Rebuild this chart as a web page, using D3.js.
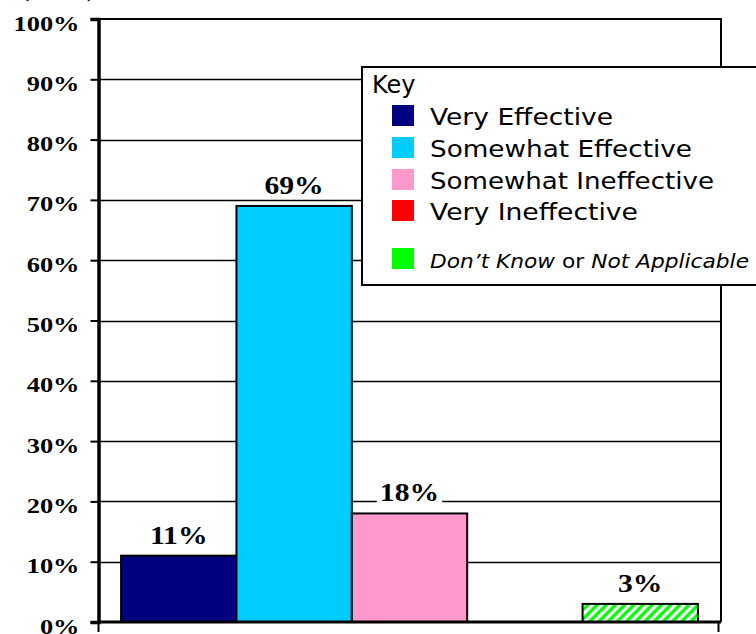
<!DOCTYPE html>
<html>
<head>
<meta charset="utf-8">
<script src="https://cdn.jsdelivr.net/npm/d3@7"></script>
<style>
  body { margin: 0; background: #fff; }
  svg { display: block; }
</style>
</head>
<body>
<svg width="756" height="634"></svg>
<script>
// data
var categories = ["Very Effective", "Somewhat Effective", "Somewhat Ineffective", "Very Ineffective", "Don\u2019t Know or Not Applicable"];
var values = [0.11, 0.69, 0.18, 0.00, 0.03];
var colors = ["#000080", "#00ccff", "#ff99cc", "#ff0000", "#00ff00"];
var yTicks = [0, 0.1, 0.2, 0.3, 0.4, 0.5, 0.6, 0.7, 0.8, 0.9, 1.0];

var svg = d3.select("svg"),
    width = +svg.attr("width"),
    height = +svg.attr("height");

var plotL = 98, plotR = 721, plotT = 19, plotB = 622;

var y = d3.scaleLinear().domain([0, 1]).range([plotB, plotT]);
var x = d3.scaleBand()
    .domain(categories)
    .range([plotL, plotR])
    .paddingInner(0)
    .paddingOuter(0.2);

// hatch for the last bar
var defs = svg.append("defs");
var pat = defs.append("pattern")
    .attr("id", "hatch")
    .attr("patternUnits", "userSpaceOnUse")
    .attr("width", 6.5).attr("height", 6.5)
    .attr("patternTransform", "rotate(45)");
pat.append("rect").attr("width", 6.5).attr("height", 6.5).attr("fill", "#00ff00");
pat.append("rect").attr("width", 3.2).attr("height", 6.5).attr("fill", "#fff");

// little title, mostly cut by the top edge
svg.append("text")
    .attr("x", 58).attr("y", -3)
    .attr("text-anchor", "middle")
    .style("font-family", "'Liberation Serif', serif")
    .style("font-weight", "bold")
    .style("font-size", "22px")
    .text("(n = 36)");

// frame top / right
svg.append("path")
    .attr("d", "M" + plotL + "," + plotT + "H" + plotR + "V" + plotB)
    .attr("fill", "none")
    .attr("stroke", "#000")
    .attr("stroke-width", 2);

// gridlines
svg.append("g")
  .selectAll("line")
  .data(yTicks.filter(function(d){ return d > 0 && d < 1; }))
  .enter()
  .append("line")
    .attr("x1", plotL).attr("x2", plotR)
    .attr("y1", function(d){ return Math.round(y(d)) + 0.5; })
    .attr("y2", function(d){ return Math.round(y(d)) + 0.5; })
    .attr("stroke", "#000")
    .attr("stroke-width", 1.3);

// bars
svg.append("g")
  .selectAll("rect")
  .data(values)
  .enter()
  .append("rect")
    .attr("x", function(d, i){ return x(categories[i]); })
    .attr("y", function(d){ return y(d); })
    .attr("width", x.bandwidth())
    .attr("height", function(d){ return y(0) - y(d); })
    .attr("fill", function(d, i){ return i == 4 ? "url(#hatch)" : colors[i]; })
    .attr("stroke", "#000")
    .attr("stroke-width", function(d){ return d > 0 ? 2 : 0; });

// value labels
var labelData = values.map(function(v, i){ return {v: v, c: categories[i]}; })
    .filter(function(d){ return d.v > 0; });

var labels = svg.append("g");
labels.selectAll("text")
  .data(labelData)
  .enter()
  .append("text")
    .attr("x", function(d){ return x(d.c) + x.bandwidth() / 2; })
    .attr("y", function(d){ return y(d.v) - 12; })
    .attr("text-anchor", "middle")
    .style("font-family", "'Liberation Serif', serif")
    .style("font-weight", "bold")
    .style("font-size", "26px")
    .text(function(d){ return d3.format(".0%")(d.v); })
    .each(function(){
      var w = this.getComputedTextLength();
      this.setAttribute("textLength", w * 1.14);
      this.setAttribute("lengthAdjust", "spacingAndGlyphs");
    });

// white backing behind the labels
labels.selectAll("text").each(function(){
  var b = this.getBBox();
  labels.insert("rect", "text")
    .attr("x", b.x - 3).attr("y", b.y + 4)
    .attr("width", b.width + 6).attr("height", b.height - 6)
    .attr("fill", "#fff");
});

// y axis
var yAxis = svg.append("g")
    .attr("transform", "translate(" + (plotL + 0.5) + ",0)")
    .call(d3.axisLeft(y).tickValues(yTicks).tickFormat(d3.format(".0%")).tickSize(8).tickPadding(11));
yAxis.select(".domain").attr("stroke-width", 3.5);
yAxis.selectAll(".tick line").attr("stroke-width", 2);
yAxis.selectAll("text")
    .attr("dy", "0.5em")
    .style("font-family", "'Liberation Serif', serif")
    .style("font-weight", "bold")
    .style("font-size", "22px")
    .each(function(){
      var w = this.getComputedTextLength();
      this.setAttribute("textLength", w * 1.2);
      this.setAttribute("lengthAdjust", "spacingAndGlyphs");
    });

// x axis, ticks only at both ends
var xEnds = d3.scaleLinear().domain([0, 1]).range([plotL, 718]);
var xAxis = svg.append("g")
    .attr("transform", "translate(0," + plotB + ")")
    .call(d3.axisBottom(xEnds).tickValues([0, 1]).tickFormat("").tickSize(10).tickSizeOuter(0));
xAxis.select(".domain").attr("d", "M" + plotL + ",0H" + plotR).attr("stroke-width", 3);
xAxis.selectAll(".tick line").attr("stroke-width", 2);

// legend
var lg = svg.append("g").attr("transform", "translate(362,67)");
lg.append("rect")
    .attr("width", 420).attr("height", 218)
    .attr("fill", "#fff")
    .attr("stroke", "#000")
    .attr("stroke-width", 2);

var rowY = [38, 70, 102, 133, 181];
var legendFont = "'DejaVu Sans', sans-serif";

lg.append("text")
    .attr("x", 10).attr("y", 26)
    .style("font-family", legendFont)
    .style("font-size", "24px")
    .text("Key");

var rows = lg.selectAll(".row")
  .data(categories)
  .enter()
  .append("g")
    .attr("class", "row")
    .attr("transform", function(d, i){ return "translate(0," + rowY[i] + ")"; });

rows.append("rect")
    .attr("x", 30).attr("y", 0)
    .attr("width", 22).attr("height", 21)
    .attr("fill", function(d, i){ return colors[i]; });

var texts = rows.append("text")
    .attr("x", 68).attr("y", 20)
    .style("font-family", legendFont)
    .style("font-size", "23px");

texts.each(function(d, i){
  var t = d3.select(this);
  if (i == 4) {
    t.append("tspan").style("font-style", "italic").style("font-size", "20px").text("Don\u2019t Know");
    t.append("tspan").style("font-size", "20px").text(" or ");
    t.append("tspan").style("font-style", "italic").style("font-size", "20px").text("Not Applicable");
  } else {
    t.text(d);
  }
});
texts.each(function(d, i){
  var target = [183, 262, 284, 208, 319][i];
  this.setAttribute("textLength", target);
  this.setAttribute("lengthAdjust", "spacingAndGlyphs");
});
</script>
</body>
</html>
